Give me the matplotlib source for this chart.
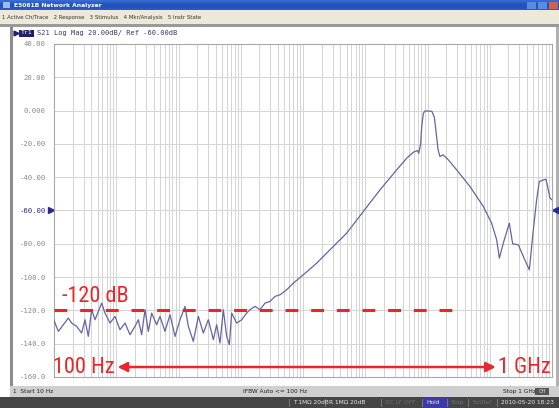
import numpy as np
import matplotlib.pyplot as plt
from matplotlib import font_manager
from matplotlib.colors import LinearSegmentedColormap
from matplotlib.patches import Rectangle
from matplotlib.ticker import LogLocator, NullFormatter, NullLocator

# ==========================================================
# DATA - S21 sweep, 10 Hz .. 1 GHz
# ==========================================================

# log10 of frequency in Hz
log_freq = [
    1.00, 1.016, 1.070, 1.150, 1.230, 1.284, 1.364, 1.444, 1.498, 1.551,
    1.605, 1.659, 1.712, 1.766, 1.819, 1.900, 1.980, 2.060, 2.141, 2.221,
    2.301, 2.355, 2.408, 2.462, 2.516, 2.569, 2.649, 2.703, 2.783, 2.863,
    2.944, 3.024, 3.104, 3.158, 3.238, 3.319, 3.399, 3.479, 3.560, 3.613,
    3.667, 3.720, 3.774, 3.817, 3.854, 3.934, 4.015, 4.095, 4.149, 4.229,
    4.309, 4.390, 4.470, 4.550, 4.631, 4.738, 4.845, 5.005, 5.220, 5.434,
    5.702, 5.969, 6.237, 6.505, 6.665, 6.772, 6.837, 6.860, 6.890, 6.906,
    6.933, 6.960, 7.070, 7.110, 7.140, 7.170, 7.200, 7.250, 7.335, 7.468,
    7.682, 7.897, 8.030, 8.111, 8.154, 8.218, 8.314, 8.368, 8.459, 8.539,
    8.636, 8.700, 8.753, 8.796, 8.850, 8.903, 8.941, 8.968, 9.00,
]

s21_db = [
    -126.0, -127.6, -132.6, -128.6, -124.6, -127.6, -129.6, -133.6, -125.6, -135.6,
    -119.6, -125.6, -120.6, -115.6, -121.6, -127.6, -123.6, -131.6, -127.6, -134.6,
    -129.6, -125.6, -134.6, -119.6, -132.6, -121.6, -128.6, -123.6, -132.6, -122.6,
    -135.6, -125.6, -117.6, -129.6, -138.6, -123.6, -133.6, -125.6, -137.6, -128.6,
    -139.6, -119.6, -135.6, -140.6, -121.6, -127.6, -125.6, -121.6, -119.6, -117.6,
    -119.6, -115.6, -114.6, -111.6, -110.6, -107.6, -103.6, -98.6, -91.6, -83.6,
    -73.6, -60.6, -47.6, -35.6, -28.6, -25.0, -24.0, -25.6, -20.0, -10.0,
    -1.6, -0.2, -0.4, -4.0, -13.6, -23.6, -27.6, -26.6, -29.6, -35.6,
    -45.6, -57.6, -67.6, -77.6, -88.6, -79.6, -67.6, -80.0, -80.6, -87.6,
    -95.6, -71.6, -53.6, -42.6, -41.8, -41.2, -47.6, -52.6, -53.6,
]

y_ticks = [40, 20, 0, -20, -40, -60, -80, -100, -120, -140, -160]
y_tick_labels = ["40.00", "20.00", "0.000", "-20.00", "-40.00", "-60.00",
                 "-80.00", "-100.0", "-120.0", "-140.0", "-160.0"]

ref_db = -60
floor_db = -120
floor_stop_hz = 3.4e7
span_labels = ["100 Hz", "1 GHz"]
arrow_hz = [1.05e2, 1.25e8]
arrow_db = -154

# ==========================================================
# STYLE
# ==========================================================

W, H = 559, 408
RED = "#e8262b"
TRACE = "#6464a4"
GRID = "#d4d4d4"
MONO = "DejaVu Sans Mono"

nomes = {f.name for f in font_manager.fontManager.ttflist}
NARROW, TAM = "Roboto", 14
for fam, tam in [("Liberation Sans Narrow", 17), ("Roboto Condensed", 16)]:
    if fam in nomes:
        NARROW, TAM = fam, tam
        break

fig = plt.figure(figsize=(W / 100, H / 100), dpi=100)
fig.patch.set_facecolor("white")

# window chrome drawn in pixel coordinates
chrome = fig.add_axes([0, 0, 1, 1], zorder=0)
chrome.set_xlim(0, W)
chrome.set_ylim(H, 0)
chrome.axis("off")


def caixa(x0, y0, x1, y1, cor, **kw):
    chrome.add_patch(Rectangle((x0, y0), x1 - x0, y1 - y0, facecolor=cor,
                               edgecolor="none", **kw))


# title bar
grad = np.linspace(0, 1, 30).reshape(-1, 1)
chrome.imshow(grad, extent=[0, W, 10, 0], aspect="auto",
              cmap=LinearSegmentedColormap.from_list(
                  "xp", ["#3a6fd8", "#1f4fb8", "#2a5cc4"]))
caixa(3, 2, 10, 8, "#9fb8e8")
chrome.text(14, 5.3, "E5061B Network Analyzer", color="white", fontsize=4.3,
            fontweight="bold", va="center")
for bx, bc in [(527, "#5b8be0"), (538, "#5b8be0"), (549, "#d06050")]:
    caixa(bx, 1.5, bx + 9, 8.5, bc)

# menu bar
caixa(0, 10, W, 24, "#ece9d8")
chrome.text(2, 17.5, "1 Active Ch/Trace   2 Response   3 Stimulus   4 Mkr/Analysis   5 Instr State",
            fontsize=3.9, color="#333333", va="center")
caixa(0, 24, W, 27, "#9a9a9a")

# borders of the display
caixa(10, 27, 13, 386, "#8c8c8c")
caixa(556, 27, 559, 386, "#b0b0b0")

# trace header
chrome.plot([15.5], [33], marker=">", color="#20206a", ms=3.5)
caixa(19, 29.5, 34, 36.5, "#20206a")
chrome.text(26.5, 33, "Tr1", color="white", fontsize=4.6, family=MONO,
            ha="center", va="center")
chrome.text(37, 33, "S21 Log Mag 20.00dB/ Ref -60.00dB", color="#3a3a6a",
            fontsize=5.0, family=MONO, va="center")

# status bar
caixa(10, 386, W, 397, "#cfcfcf")
chrome.text(13, 391.5, "1  Start 10 Hz", fontsize=4.2, color="#222222", va="center")
chrome.text(243, 391.5, "IFBW Auto <= 100 Hz", fontsize=4.2, color="#222222", va="center")
chrome.text(503, 391.5, "Stop 1 GHz", fontsize=4.2, color="#222222", va="center")
caixa(535, 388, 549, 395, "#555555")
chrome.text(542, 391.5, "Off", fontsize=3.5, color="#dddddd", ha="center", va="center")

# bottom instrument bar
caixa(0, 397, W, H, "#454545")
partes = [(293, "T 1M\u03a9 20dB", "#e8e8e8", None),
          (329, "R 1M\u03a9 20dB", "#e8e8e8", None),
          (385, "DC LF OFF", "#6e6e6e", None),
          (426, "Hold", "#e8e8e8", "#3a3aa8"),
          (451, "Stop", "#6e6e6e", None),
          (472, "ExtRef", "#6e6e6e", None),
          (501, "2010-05-20 18:23", "#e8e8e8", None)]
for px, txt, cor, fundo in partes:
    if fundo:
        caixa(px - 3, 398, px + 23, 407.5, fundo)
    chrome.text(px, 402.7, txt, fontsize=4.2, color=cor, va="center")
    caixa(px - 4, 398.5, px - 3.3, 407, "#777777")

# ==========================================================
# MEASUREMENT GRID
# ==========================================================

ax = fig.add_axes([54 / W, 1 - 377 / H, 498 / W, 333 / H], zorder=2)
ax.set_facecolor("white")

freq = 10 ** np.array(log_freq)
ax.plot(freq, s21_db, color=TRACE, lw=0.9, zorder=3)

ax.set_xscale("log")
ax.set_xlim(10, 1e9)
ax.set_ylim(-160, 40)

ax.xaxis.set_major_locator(LogLocator(base=10, numticks=20))
ax.xaxis.set_minor_locator(LogLocator(base=10, subs=np.arange(2, 10), numticks=200))
ax.xaxis.set_major_formatter(NullFormatter())
ax.xaxis.set_minor_formatter(NullFormatter())
ax.set_yticks(y_ticks)
ax.set_yticklabels(y_tick_labels)
ax.yaxis.set_minor_locator(NullLocator())

ax.tick_params(which="both", length=0)
ax.tick_params(axis="y", labelsize=5.2, labelcolor="#8a8a8a", pad=6)
for lab in ax.get_yticklabels():
    lab.set_family(MONO)
    if lab.get_text() == "-60.00":
        lab.set_color("#2a2a7a")

ax.grid(which="both", axis="x", color=GRID, lw=0.7)
ax.grid(which="major", axis="y", color=GRID, lw=0.7)
for s in ax.spines.values():
    s.set_color("#a8a8a8")
    s.set_linewidth(0.8)

# reference level markers
ytr = ax.get_yaxis_transform()
ax.plot([-0.006], [ref_db], marker=">", color="#2a2a8a", ms=5, transform=ytr, clip_on=False)
ax.plot([1.006], [ref_db], marker="<", color="#2a2a8a", ms=5, transform=ytr, clip_on=False)

# noise floor annotation
ax.plot([10, floor_stop_hz], [floor_db, floor_db], color=RED, lw=2.2,
        dashes=(4.2, 4.2), zorder=4)
ax.text(13.5, floor_db + 8.5, f"{floor_db} dB", color=RED, fontsize=TAM,
        family=NARROW, va="center", ha="left", zorder=5)

# span annotation
ax.annotate("", xy=(arrow_hz[0], arrow_db), xytext=(arrow_hz[1], arrow_db),
            arrowprops=dict(arrowstyle="<|-|>", color=RED, lw=1.8,
                            mutation_scale=14, shrinkA=0, shrinkB=0),
            zorder=5, annotation_clip=False)
ax.text(9.8, arrow_db, span_labels[0], color=RED, fontsize=TAM,
        family=NARROW, ha="left", va="center", clip_on=False, zorder=5)
ax.text(arrow_hz[1] * 1.1, arrow_db, span_labels[1], color=RED, fontsize=TAM,
        family=NARROW, ha="left", va="center", clip_on=False, zorder=5)

fig.savefig("out.png", dpi=100)
